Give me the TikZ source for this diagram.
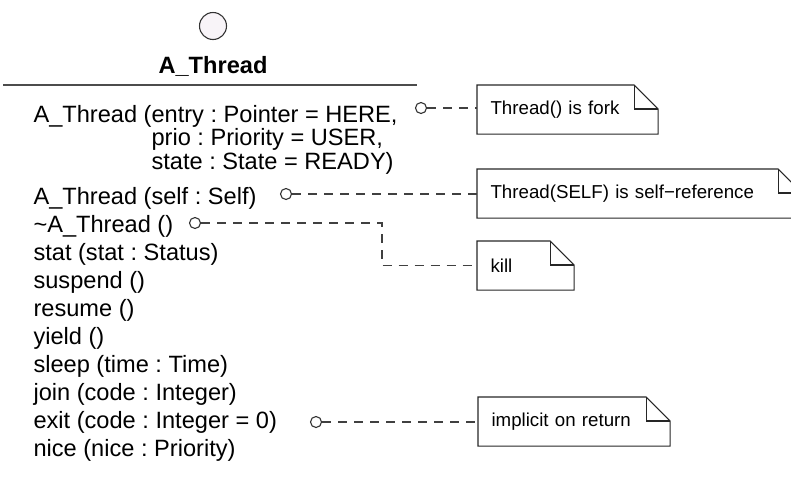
\documentclass[tikz,border=0pt]{standalone}
\usepackage{fontspec}
\setmainfont{Liberation Sans}
\frenchspacing
\newcommand{\hauptfont}{\fontsize{23.6}{23.6}\selectfont}
\newcommand{\notizfont}{\fontsize{18.7}{20}\selectfont}
\definecolor{symbolfill}{RGB}{248,244,248}
\tikzset{
	methode/.style={anchor=base west, inner sep=0pt, font=\hauptfont},
	lolli/.style={circle, draw=black!80, fill=white, minimum size=11pt, inner sep=0pt},
	notiz/.style={anchor=north west, inner xsep=13pt, inner ysep=0pt, minimum height=48pt, text width=#1, align=left, font=\notizfont},
	verweis/.style={draw=black!75, dash pattern=on 9pt off 7pt},
}
\begin{document}
\begin{tikzpicture}[x=1pt,y=-1pt,line width=1.1pt]
	\useasboundingbox (0,0) rectangle (791,480);
	% Klassenkopf
	\node[circle, draw=black!80, fill=symbolfill, minimum size=27pt, inner sep=0pt] (symbol) at (213,26) {};
	\node[anchor=base, inner sep=0pt, font=\hauptfont\bfseries] (name) at (213,73) {A\_Thread};
	\draw[draw=black!70, line width=1.3pt] (3,85) -- (417,85);
	% Konstruktor mit drei Zeilen
	\node[methode] (m0a) at (33,122) {A\_Thread (entry : Pointer = HERE,};
	\node[methode] (m0b) at (33,145.6) {\phantom{A\_Thread (}prio : Priority = USER,};
	\node[methode] (m0c) at (33,169.2) {\phantom{A\_Thread (}state : State = READY)};
	% restliche Operationen
	\foreach \t [count=\i] in {A\_Thread (self : Self), \textasciitilde A\_Thread (), stat (stat : Status), suspend (), resume (), yield (), sleep (time : Time), join (code : Integer), exit (code : Integer = 0), nice (nice : Priority)}
		\node[methode] (m\i) at (33,{176+28*\i}) {\t};
	% Anschlusspunkte
	\node[lolli] (k1) at (421,108) {};
	\node[lolli] (k2) at (286,194) {};
	\node[lolli] (k3) at (195,223) {};
	\node[lolli] (k4) at (316,422) {};
	% Notizen
	\node[notiz=154pt] (fork) at (477,85) {Thread() is fork};
	\node[notiz=298pt] (selbst) at (477,169) {Thread(SELF) is self−reference};
	\node[notiz=70pt] (kill) at (477,241) {kill};
	\node[notiz=165pt] (ret) at (478,397) {implicit on return};
	\foreach \n in {fork,selbst,kill,ret}{
		\draw[draw=black!85] (\n.north west) -- ([xshift=-24pt]\n.north east) -- ([yshift=-24pt]\n.north east) -- (\n.south east) -- (\n.south west) -- cycle;
		\draw[draw=black!85] ([xshift=-24pt]\n.north east) |- ([yshift=-24pt]\n.north east);
	}
	% Verbindungen
	\coordinate (knick) at (382,223);
	\draw[verweis] (k1) -- (k1 -| fork.west);
	\draw[verweis] (k2) -- (k2 -| selbst.west);
	\draw[verweis] (k3) -- (knick) |- (kill.west);
	\draw[verweis] (k4) -- (k4 -| ret.west);
\end{tikzpicture}
\end{document}
